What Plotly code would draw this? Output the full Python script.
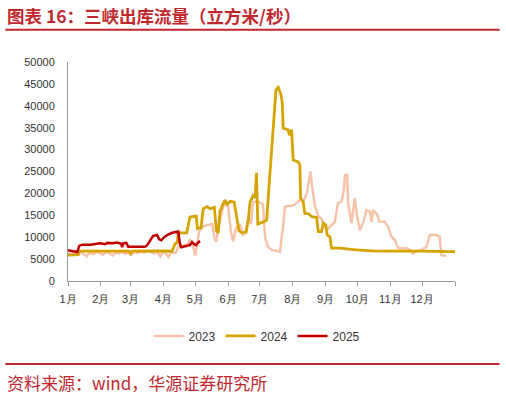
import plotly.graph_objects as go

# ---- data (x = day of year, y = m3/s) ----
days_2023 = [0, 3, 6, 9, 12, 15, 18, 20, 24, 27, 30, 33, 36, 39, 42, 45, 48, 51, 54, 57, 60, 63, 66,
             69, 72, 75, 78, 81, 84, 87, 89, 92, 95, 97, 100, 102, 104, 108.7, 113, 115, 118, 120, 122,
             124, 127.5, 132, 136, 138, 139.7, 142.5, 145.3, 148, 151, 153.8, 155.7, 158.5, 162, 165,
             168, 170, 172.6, 174.5, 178.3, 182, 183.9, 186, 188.6, 192, 198, 200, 201.5, 202.7, 204.6,
             211, 214, 218.7, 222.6, 225.3, 227.3, 228.6, 230, 233, 235.8, 239.5, 242.3, 244, 247,
             251.7, 254.5, 258, 260.3, 261.2, 263.3, 264.2, 267.4, 270.5, 272.7, 275.2, 278.3, 281.5,
             284.7, 286.3, 287.8, 291, 294, 298.8, 301.9, 305.1, 308.2, 311.3, 319.2, 322.3, 325.4,
             328, 331.7, 338, 341.3, 347.5, 350.6, 352.2, 356.9]
vals_2023 = [6300, 6000, 6500, 6200, 6600, 6100, 5600, 6400, 6200, 6700, 6300, 6000, 6600, 6400, 5800,
             6500, 6300, 6700, 6200, 6500, 6100, 6600, 6400, 6800, 6500, 6900, 6600, 6300, 6700, 5600,
             6500, 6400, 5500, 6600, 6400, 6500, 7800, 8000, 8500, 9300, 8000, 5800, 9000, 11500, 12500,
             12800, 13000, 10000, 9000, 13000, 16000, 18000, 17000, 11000, 9000, 12000, 13000, 10500,
             11000, 14500, 13000, 18000, 18200, 17800, 17500, 9800, 7800, 7100, 6700, 6700, 10000,
             12000, 17000, 17200, 17500, 18500, 18500, 20000, 23000, 25000, 22000, 17000, 15000, 14000,
             12500, 11600, 12400, 13500, 17700, 18100, 21000, 24200, 24200, 17800, 13200, 18900, 14700,
             11600, 13200, 16200, 15800, 13500, 16200, 15400, 13500, 13500, 12400, 10100, 9400, 7500,
             7500, 7200, 6300, 6800, 6900, 7800, 10500, 10500, 10000, 5900, 5700]

days_2024 = [0, 9.7, 10.6, 57.7, 59, 60.7, 87, 98, 101, 103, 104, 112, 115, 121, 122, 125.5, 127.5,
             131, 134, 138, 140, 141.7, 143.4, 146.3, 148, 150, 153, 156.7, 158.5, 161.3, 164, 168,
             170, 171.7, 174.5, 176.5, 177.8, 178.7, 179, 184.2, 187.4, 188.9, 192, 193.6, 196.1,
             198.3, 200.6, 202, 203, 207.7, 208.7, 210.9, 212.4, 217.1, 218.7, 219.4, 221.8, 223.4,
             226.6, 229.8, 234.5, 236, 239.2, 240.7, 243.2, 244.4, 247, 248.6, 256.4, 265, 272, 287,
             300, 330, 365]
vals_2024 = [5900, 6000, 6800, 6800, 6200, 6800, 6900, 6800, 8500, 8800, 11000, 11000, 14600, 14800,
             12000, 12200, 16500, 17000, 16500, 16800, 11500, 11000, 16000, 17500, 18500, 17500, 18200,
             18000, 15500, 11500, 11000, 11200, 14000, 18000, 19500, 19000, 24700, 17000, 13000, 13500,
             13900, 19200, 29200, 33700, 43600, 44200, 42800, 40900, 34900, 34500, 33300, 34500, 27600,
             27200, 26500, 18900, 18100, 15400, 15400, 14700, 14500, 11300, 11300, 13200, 12800, 10500,
             10100, 7500, 7500, 7300, 7100, 6900, 6800, 6800, 6700]

days_2025 = [0, 6.9, 8.8, 10.6, 13.5, 21, 25.7, 30.4, 35, 37, 41.7, 46.5, 50.2, 51, 52, 55, 56.8,
             72.8, 74.7, 77.5, 80.3, 84, 86, 88, 90.7, 94.4, 98.2, 104, 105.3, 106.7, 111.4, 115,
             117, 119, 120.8, 122.7, 124.6]
vals_2025 = [7000, 6800, 6600, 8000, 8300, 8300, 8500, 8600, 8400, 8700, 8600, 8800, 8500, 7700, 8600,
             8700, 7800, 7800, 8200, 9200, 10300, 10500, 9500, 9300, 10000, 10600, 11000, 11300, 8800,
             7700, 8000, 8200, 8900, 8400, 8200, 8800, 9100]

month_starts = [0, 31, 59, 90, 120, 151, 181, 212, 243, 273, 304, 334, 365]
month_labels = ["1月", "2月", "3月", "4月", "5月", "6月", "7月", "8月", "9月", "10月", "11月", "12月", ""]
y_ticks = [0, 5000, 10000, 15000, 20000, 25000, 30000, 35000, 40000, 45000, 50000]
y_labels = [str(v) for v in y_ticks]

RED = "#c0282e"
fig = go.Figure()
fig.add_trace(go.Scatter(x=days_2023, y=vals_2023, name="2023", mode="lines",
                         line=dict(color="#f6c3a8", width=2.5)))
fig.add_trace(go.Scatter(x=days_2024, y=vals_2024, name="2024", mode="lines",
                         line=dict(color="#d6a400", width=2.8)))
fig.add_trace(go.Scatter(x=days_2025, y=vals_2025, name="2025", mode="lines",
                         line=dict(color="#c00000", width=2.5)))

L, R, T, B = 67.7, 455.3, 61.7, 281.0
W, H = 506, 398
pw, ph = R - L, B - T
def px(x):
    return (x - L) / pw
def py(y):
    return (B - y) / ph

fig.update_layout(
    width=W, height=H,
    margin=dict(l=L, r=W - R, t=T, b=H - B, autoexpand=False),
    paper_bgcolor="white", plot_bgcolor="white",
    font=dict(family="Liberation Sans, Arial, sans-serif", size=11, color="#333333"),
    showlegend=True,
    legend=dict(orientation="h", x=px(257), xanchor="center", y=py(336), yanchor="middle",
                font=dict(size=12, color="#333333"), itemwidth=30, tracegroupgap=0,
                bgcolor="rgba(0,0,0,0)"),
    xaxis=dict(range=[0, 365], tickvals=month_starts, ticktext=month_labels,
               showgrid=False, zeroline=False, showline=True, linecolor="#999999", linewidth=1,
               ticks="outside", ticklen=4, tickcolor="#999999", ticklabelstandoff=4,
               tickfont=dict(size=11, color="#333333"), fixedrange=True),
    yaxis=dict(range=[0, 50000], tickvals=y_ticks, ticktext=y_labels, showgrid=False, zeroline=False,
               showline=True, linecolor="#999999", linewidth=1, ticks="",
               ticklabelstandoff=10, tickfont=dict(size=11, color="#333333"), fixedrange=True),
    shapes=[
        dict(type="line", xref="paper", yref="paper", x0=px(5), x1=px(500), y0=py(29.5), y1=py(29.5),
             line=dict(color=RED, width=2)),
        dict(type="line", xref="paper", yref="paper", x0=px(5), x1=px(500), y0=py(364), y1=py(364),
             line=dict(color=RED, width=2)),
    ],
    annotations=[
        dict(text="<b>图表 16：三峡出库流量（立方米/秒）</b>", xref="paper", yref="paper",
             x=px(5), y=py(15), xanchor="left", yanchor="middle", showarrow=False,
             font=dict(family="Noto Sans CJK SC", size=17.5, color=RED)),
        dict(text="资料来源：wind，华源证券研究所", xref="paper", yref="paper",
             x=px(5), y=py(383), xanchor="left", yanchor="middle", showarrow=False,
             font=dict(family="Noto Sans CJK SC", size=17, color=RED)),
    ],
)

fig.write_html("out.html", config={"displayModeBar": False},
               post_script="document.body.style.margin='0';")
